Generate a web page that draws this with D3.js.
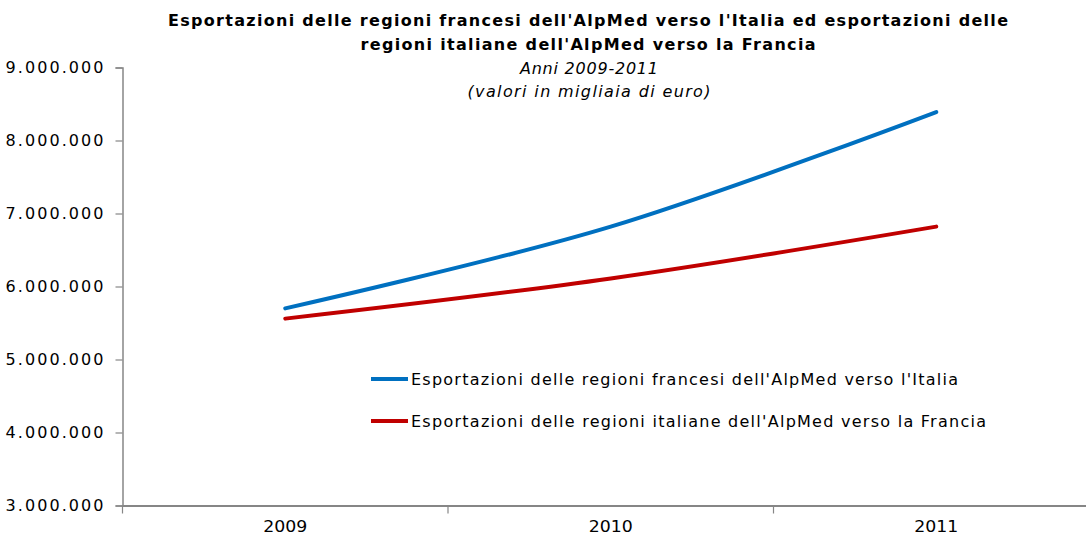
<!DOCTYPE html>
<html><head><meta charset="utf-8">
<script src="https://cdn.jsdelivr.net/npm/d3@7"></script>
<style>
body{margin:0;background:#fff;}
svg{display:block;}
text{font-family:"DejaVu Sans",Verdana,sans-serif;fill:#000;}
</style></head>
<body>
<script>
const categories = ["2009","2010","2011"];
const seriesNames = ["Esportazioni delle regioni francesi dell'AlpMed verso l'Italia",
                     "Esportazioni delle regioni italiane dell'AlpMed verso la Francia"];
const francesiValues = [5700000, 6820000, 8390000];
const italianeValues = [5560000, 6110000, 6820000];
const yTicks = [3000000,4000000,5000000,6000000,7000000,8000000,9000000];
const colors = ["#0070C0","#C00000"];
const titleLines = ["Esportazioni delle regioni francesi dell'AlpMed verso l'Italia ed esportazioni delle",
                    "regioni italiane dell'AlpMed verso la Francia"];
const subtitleLines = ["Anni 2009-2011","(valori in migliaia di euro)"];

(function(){
const W=1086,H=538;
const svg=d3.select("body").append("svg").attr("width",W).attr("height",H);
const mLeft=122.5, mBottom=505.5, mTop=67.5, mRight=1099;
const x=d3.scaleBand().domain(categories).range([mLeft,mRight]);
const y=d3.scaleLinear().domain([3000000,9000000]).range([mBottom,mTop]);
const fmt=v=>d3.format(",")(v).replace(/,/g,".");

// y axis
const yAxis=d3.axisLeft(y).tickValues(yTicks).tickFormat(fmt).tickSize(7).tickPadding(12);
const gy=svg.append("g").attr("transform",`translate(${mLeft},0)`).call(yAxis);
gy.select(".domain").attr("stroke","#868686").attr("stroke-width",1.5);
gy.selectAll(".tick line").attr("stroke","#868686").attr("stroke-width",1.2);
gy.selectAll(".tick text").attr("fill","#000")
  .attr("font-family","'DejaVu Sans',Verdana,sans-serif").attr("font-size",16)
  .attr("textLength",98).attr("lengthAdjust","spacing");

// x axis
const xAxis=d3.axisBottom(x).tickSize(0).tickPadding(15);
const gx=svg.append("g").attr("transform",`translate(0,${mBottom})`).call(xAxis);
gx.select(".domain").attr("stroke","#868686").attr("stroke-width",2);
gx.selectAll(".tick text").attr("font-family","'DejaVu Sans',Verdana,sans-serif")
  .attr("font-size",16).attr("fill","#000").attr("textLength",44).attr("lengthAdjust","spacingAndGlyphs");
const bounds=categories.map(c=>x(c));
gx.selectAll("line.b").data(bounds).enter().append("line").attr("class","b")
  .attr("x1",d=>d).attr("x2",d=>d).attr("y1",0).attr("y2",8)
  .attr("stroke","#868686").attr("stroke-width",1.2);

// lines
const line=d3.line().x((d,i)=>x(categories[i])+x.bandwidth()/2).y(d=>y(d)).curve(d3.curveCardinal.tension(0));
[francesiValues,italianeValues].forEach((vals,i)=>{
  svg.append("path").datum(vals).attr("d",line).attr("fill","none")
    .attr("stroke",colors[i]).attr("stroke-width",4).attr("stroke-linecap","round");
});

// legend
const legY=[379,421];
const legLen=[547,575];
seriesNames.forEach((n,i)=>{
  svg.append("line").attr("x1",371).attr("x2",408).attr("y1",legY[i]).attr("y2",legY[i])
    .attr("stroke",colors[i]).attr("stroke-width",4);
  svg.append("text").attr("x",411).attr("y",legY[i]+6).attr("font-size",16)
    .attr("textLength",legLen[i]).attr("lengthAdjust","spacing").text(n);
});

// title
const titleLen=[840,455];
titleLines.forEach((t,i)=>{
  svg.append("text").attr("x",588).attr("y",26+i*24).attr("text-anchor","middle")
    .attr("font-size",16).attr("font-weight","bold")
    .attr("textLength",titleLen[i]).attr("lengthAdjust","spacing").text(t);
});
const subLen=[138,243];
subtitleLines.forEach((t,i)=>{
  svg.append("text").attr("x",589).attr("y",74+i*23).attr("text-anchor","middle")
    .attr("font-size",16).attr("font-style","italic")
    .attr("textLength",subLen[i]).attr("lengthAdjust","spacing").text(t);
});
})();
</script>
</body></html>
